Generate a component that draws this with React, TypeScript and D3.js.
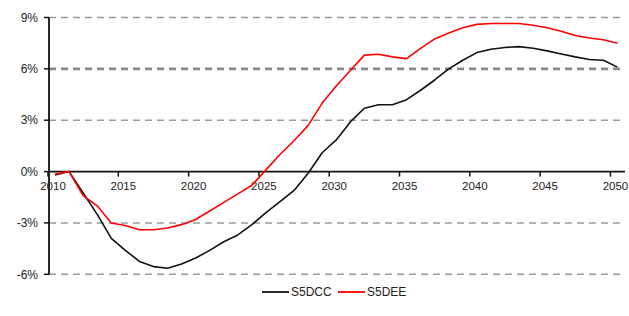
import * as d3 from "d3";

const YEARS = d3.range(2010, 2051);

const S5DCC = [
  -0.2, 0.0, -1.25, -2.5, -3.9, -4.6, -5.25, -5.55, -5.65, -5.4,
  -5.05, -4.6, -4.1, -3.7, -3.1, -2.4, -1.75, -1.1, -0.1, 1.1,
  1.85, 2.9, 3.7, 3.9, 3.9, 4.2, 4.75, 5.35, 6.0, 6.5,
  6.95, 7.15, 7.25, 7.3, 7.2, 7.05, 6.87, 6.7, 6.55, 6.5,
  6.1,
];

const S5DEE = [
  -0.15, 0.0, -1.4, -2.0, -3.0, -3.15, -3.4, -3.4, -3.3, -3.1,
  -2.8, -2.3, -1.8, -1.3, -0.8, 0.1, 1.0, 1.8, 2.7, 4.0,
  5.0, 5.9, 6.8, 6.85, 6.7, 6.6, 7.2, 7.75, 8.1, 8.4,
  8.6, 8.65, 8.65, 8.65, 8.55, 8.4, 8.2, 7.95, 7.8, 7.7,
  7.5,
];

const Y_TICKS = [-6, -3, 0, 3, 6, 9];
const X_LABELS = [2010, 2015, 2020, 2025, 2030, 2035, 2040, 2045, 2050];

const SERIES = [
  { name: "S5DCC", values: S5DCC, color: "#111111" },
  { name: "S5DEE", values: S5DEE, color: "#ff0000" },
];

const W = 629;
const H = 316;
const FONT = "'Liberation Sans', Arial, sans-serif";

export default function App() {
  const x = d3.scaleBand<number>().domain(YEARS).range([48, 624.5]).padding(0);
  const y = d3.scaleLinear().domain([-6, 9]).range([274.3, 17.5]);
  const cx = (yr: number) => (x(yr) ?? 0) + x.bandwidth() / 2;

  const line = d3
    .line<number>()
    .x((_, i) => cx(YEARS[i]))
    .y((d) => y(d));

  return (
    <svg
      width={W}
      height={H}
      style={{ position: "absolute", left: 0, top: 0, background: "#fff" }}
      fontFamily={FONT}
    >
      {/* grid lines */}
      {Y_TICKS.filter((t) => t !== 0).map((t) => (
        <line
          key={t}
          x1={49}
          x2={624}
          y1={y(t)}
          y2={y(t)}
          stroke={t === 6 ? "#888" : "#9a9a9a"}
          strokeWidth={t === 6 ? 2.6 : 1.6}
          strokeDasharray="7 5"
        />
      ))}

      {/* y axis */}
      <line x1={49} x2={49} y1={y(9)} y2={y(-6)} stroke="#111" strokeWidth={1.8} />
      {Y_TICKS.map((t) => (
        <g key={t}>
          <line x1={44} x2={49} y1={y(t)} y2={y(t)} stroke="#111" strokeWidth={1.5} />
          <text
            x={38}
            y={y(t)}
            dy="0.35em"
            textAnchor="end"
            fontSize={12}
            fill="#222"
          >
            {t}%
          </text>
        </g>
      ))}

      {/* x axis at zero */}
      <line x1={49} x2={625} y1={y(0)} y2={y(0)} stroke="#111" strokeWidth={1.8} />
      {X_LABELS.map((yr) => (
        <g key={yr}>
          <line
            x1={x(yr)}
            x2={x(yr)}
            y1={y(0)}
            y2={y(0) + 5}
            stroke="#111"
            strokeWidth={1.5}
          />
          <text
            x={(x(yr) ?? 0) + 5}
            y={y(0) + 18}
            textAnchor="middle"
            fontSize={11.5}
            fill="#222"
          >
            {yr}
          </text>
        </g>
      ))}

      {/* series */}
      {SERIES.map((s) => (
        <path
          key={s.name}
          d={line(s.values) ?? ""}
          fill="none"
          stroke={s.color}
          strokeWidth={1.6}
          strokeLinejoin="round"
        />
      ))}

      {/* legend */}
      {SERIES.map((s, i) => {
        const lx = 262 + i * 76;
        return (
          <g key={s.name}>
            <line x1={lx} x2={lx + 27} y1={292} y2={292} stroke={s.color} strokeWidth={1.8} />
            <text x={lx + 29} y={292} dy="0.35em" fontSize={12} fill="#222">
              {s.name}
            </text>
          </g>
        );
      })}
    </svg>
  );
}
